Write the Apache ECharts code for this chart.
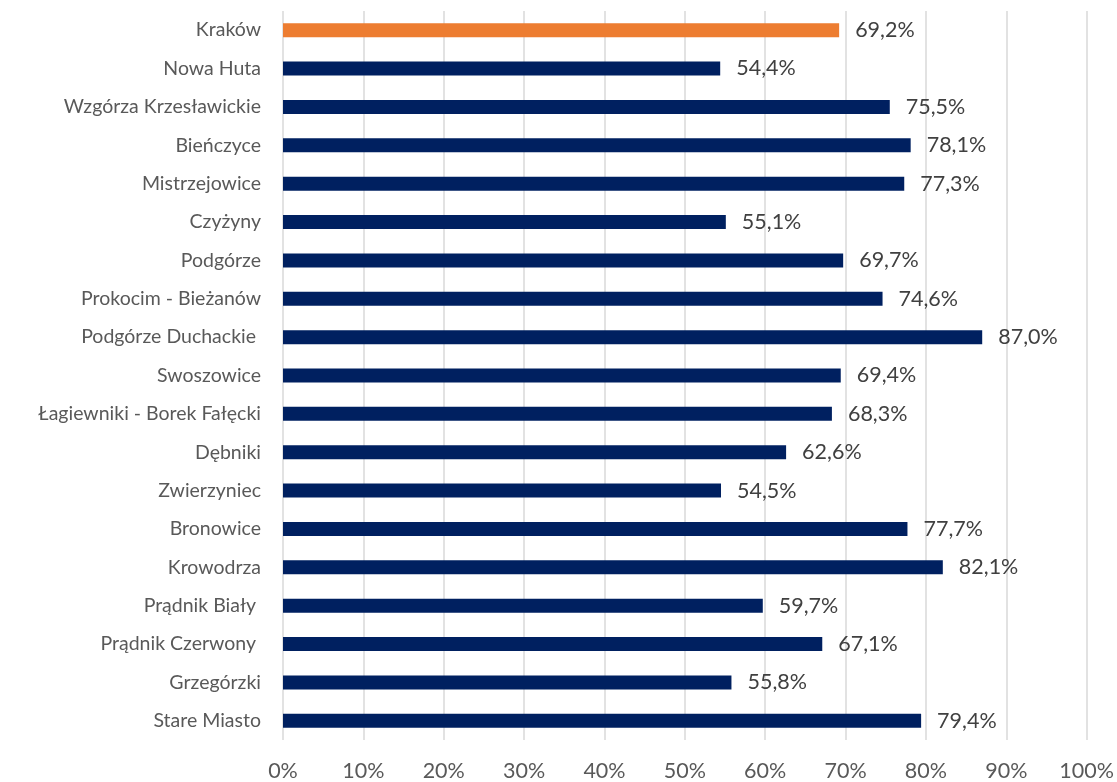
<!DOCTYPE html>
<html><head><meta charset="utf-8">
<script src="https://cdn.jsdelivr.net/npm/echarts@6/dist/echarts.min.js"></script>
<style>html,body{margin:0;padding:0;background:#fff}#c{width:1117px;height:782px}</style>
</head><body><div id="c"></div>
<script>
const categories = ["Kraków","Nowa Huta","Wzgórza Krzesławickie","Bieńczyce","Mistrzejowice","Czyżyny","Podgórze","Prokocim - Bieżanów","Podgórze Duchackie ","Swoszowice","Łagiewniki - Borek Fałęcki","Dębniki","Zwierzyniec","Bronowice","Krowodrza","Prądnik Biały ","Prądnik Czerwony ","Grzegórzki","Stare Miasto"];
const values = [69.2,54.4,75.5,78.1,77.3,55.1,69.7,74.6,87.0,69.4,68.3,62.6,54.5,77.7,82.1,59.7,67.1,55.8,79.4];
const highlight = "Kraków";
const chart = echarts.init(document.getElementById('c'), null, {renderer:'canvas'});
const font = "Lato, 'Open Sans', sans-serif";
chart.setOption({
  animation:false,
  grid:{left:283, right:28, top:11, bottom:41, containLabel:false},
  xAxis:{type:'value', min:0, max:100, interval:10,
    axisLabel:{formatter:v=>v+'%', color:'#595959', fontSize:21.5, fontFamily:font, margin:20},
    axisLine:{show:false}, axisTick:{show:false},
    splitLine:{lineStyle:{color:'#d9d9d9', width:1.5}}},
  yAxis:{type:'category', data:categories, inverse:true,
    axisLabel:{color:'#595959', fontSize:19.5, fontFamily:font, margin:22},
    axisLine:{show:false}, axisTick:{show:false}},
  series:[{type:'bar', barWidth:14,
    data:values.map((v,i)=>({value:v, itemStyle:{color: categories[i]===highlight?'#ED7D31':'#002060'}})),
    label:{show:true, position:'right', distance:16, color:'#404040', fontSize:21.5, fontFamily:font,
      formatter:p=>p.value.toFixed(1).replace('.',',')+'%'}}]
});
</script></body></html>
